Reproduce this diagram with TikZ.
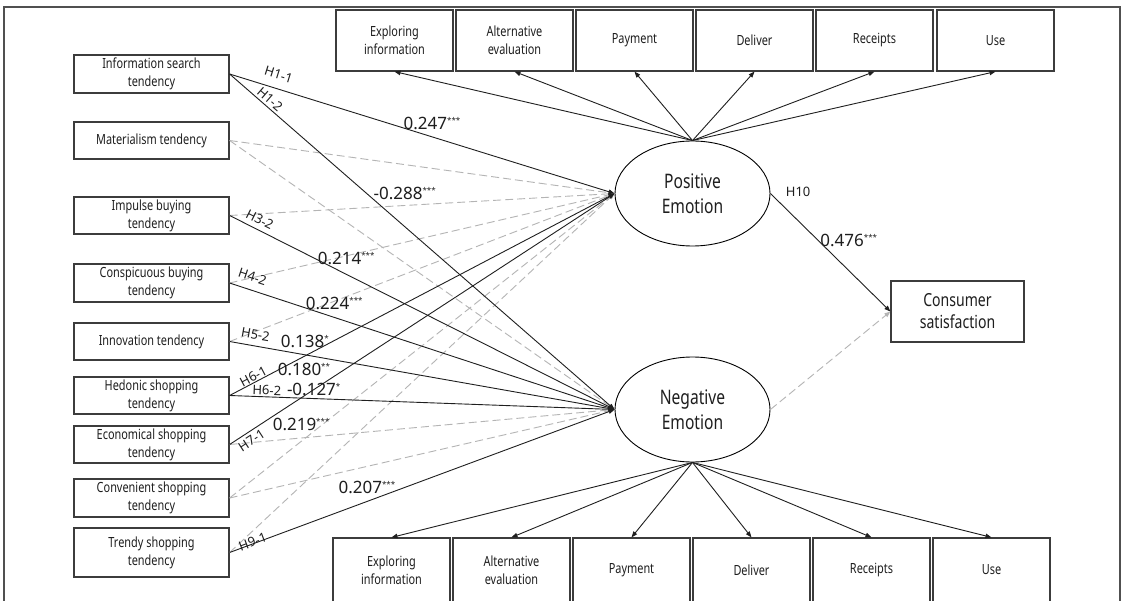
\documentclass[tikz,border=0pt]{standalone}
\usepackage{fontspec}
\setmainfont{Noto Sans}
\newfontfamily\narrowfont[FakeStretch=0.78]{Noto Sans}
\usetikzlibrary{arrows.meta,shapes.geometric}
\definecolor{boxc}{HTML}{3C3C3C}
\definecolor{dashc}{HTML}{B4B4B4}
\definecolor{txt}{HTML}{1E1E1E}
\definecolor{framec}{HTML}{505050}
\newcommand\pstars[1]{\raisebox{6pt}{\fontsize{8}{8}\selectfont #1}}
\tikzset{
  box/.style={draw=boxc, line width=1.2pt, inner sep=0pt, align=center, text=txt,
    font=\narrowfont\fontsize{14}{18}\selectfont},
  lbox/.style={box, minimum width=155pt, minimum height=37pt},
  tbox/.style={box, minimum width=117pt, minimum height=61pt},
  bbox/.style={box, minimum width=117pt, minimum height=64pt},
  emo/.style={ellipse, draw=black, line width=0.9pt, minimum width=155pt, minimum height=105pt,
    inner sep=0pt, align=center, text=txt, font=\narrowfont\fontsize{20}{25}\selectfont},
  solidarr/.style={draw=black!88, line width=0.9pt, -{Triangle[length=6pt,width=4.5pt]}},
  dasharr/.style={draw=dashc, line width=0.9pt, dash pattern=on 8pt off 4pt,
    -{Triangle[length=6pt,width=4.5pt]}},
  num/.style={anchor=base west, inner sep=0pt, text=txt, font=\fontsize{17}{20}\selectfont},
  hl/.style={sloped, inner xsep=0pt, text=txt, font=\fontsize{13}{13}\selectfont},
}
\begin{document}
\begin{tikzpicture}[x=1pt,y=-1pt]
\useasboundingbox (0,0) rectangle (1123,601);
\fill[white] (0,0) rectangle (1123,601);
\draw[framec, line width=1.2pt] (4,601) -- (4,7) -- (1120,7) -- (1120,601);

% left boxes
\node[lbox, minimum height=38pt] (info)   at (151.5,74)    {Information search\\tendency};
\node[lbox]                      (mat)    at (151.5,140.5) {Materialism tendency};
\node[lbox]                      (imp)    at (151.5,215.5) {Impulse buying\\tendency};
\node[lbox, minimum height=38pt] (consp)  at (151.5,283)   {Conspicuous buying\\tendency};
\node[lbox]                      (innov)  at (151.5,341.5) {Innovation tendency};
\node[lbox]                      (hed)    at (151.5,395.5) {Hedonic shopping\\tendency};
\node[lbox]                      (econ)   at (151.5,444.5) {Economical shopping\\tendency};
\node[lbox, minimum height=38pt] (conv)   at (151.5,498)   {Convenient shopping\\tendency};
\node[lbox, minimum height=49pt] (trendy) at (151.5,552.5) {Trendy shopping\\tendency};

% emotions and outcome
\node[emo] (pos) at (692.5,193.5) {Positive\\Emotion};
\node[emo] (neg) at (692.5,409.5) {Negative\\Emotion};
\node[box, minimum width=133pt, minimum height=61pt, font=\narrowfont\fontsize{18}{22}\selectfont]
  (cons) at (957.5,311.5) {Consumer\\satisfaction};

% top boxes
\node[tbox] (t1) at (394.5,40.5) {Exploring\\information};
\node[tbox] (t2) at (514.5,40.5) {Alternative\\evaluation};
\node[tbox] (t3) at (634.5,40.5) {Payment};
\node[tbox] (t4) at (754.5,40.5) {Deliver};
\node[tbox] (t5) at (874.5,40.5) {Receipts};
\node[tbox] (t6) at (995.5,40.5) {Use};

% bottom boxes
\node[bbox] (b1) at (391.5,570) {Exploring\\information};
\node[bbox] (b2) at (511.5,570) {Alternative\\evaluation};
\node[bbox] (b3) at (631.5,570) {Payment};
\node[bbox] (b4) at (751.5,570) {Deliver};
\node[bbox] (b5) at (871.5,570) {Receipts};
\node[bbox] (b6) at (991.5,570) {Use};

% dashed (non-significant) paths
\draw[dasharr] (mat.east) -- (pos.west);
\draw[dasharr] (mat.east) -- (neg.west);
\draw[dasharr] (imp.east) -- (pos.west);
\draw[dasharr] (consp.east) -- (pos.west);
\draw[dasharr] (innov.east) -- (pos.west);
\draw[dasharr] (econ.east) -- (neg.west);
\draw[dasharr] (conv.east) -- (pos.west);
\draw[dasharr] (conv.east) -- (neg.west);
\draw[dasharr] (trendy.east) -- (pos.west);
\draw[dasharr] (neg.east) -- (cons.west);

% significant paths
\draw[solidarr] (info.east) -- (pos.west)
  node[hl, pos=0.117, anchor=south, inner ysep=8.7pt] {H1-1}
  node[num, pos=0.451, yshift=-1.3pt] {0.247\pstars{***}};
\draw[solidarr] (info.east) -- (neg.west)
  node[hl, pos=0.092, anchor=south, inner ysep=2.4pt] {H1-2}
  node[num, pos=0.373, yshift=-0.7pt] {-0.288\pstars{***}};
\draw[solidarr] (imp.east) -- (neg.west)
  node[hl, pos=0.067, anchor=south, inner ysep=4.7pt] {H3-2}
  node[num, pos=0.228, yshift=-5.2pt] {0.214\pstars{***}};
\draw[solidarr] (consp.east) -- (neg.west)
  node[hl, pos=0.049, anchor=south, inner ysep=8pt] {H4-2}
  node[num, pos=0.197, yshift=-2pt] {0.224\pstars{***}};
\draw[solidarr] (innov.east) -- (neg.west)
  node[hl, pos=0.062, anchor=south, inner ysep=6.3pt] {H5-2}
  node[num, pos=0.132, yshift=2.5pt] {0.138\pstars{*}};
\draw[solidarr] (hed.east) -- (pos.west)
  node[hl, pos=0.069, anchor=south, inner ysep=0.8pt] {H6-1}
  node[num, pos=0.124, yshift=-4.7pt] {0.180\pstars{**}};
\draw[solidarr] (hed.east) -- (neg.west)
  node[hl, pos=0.096, anchor=south, inner ysep=1.3pt] {H6-2}
  node[num, pos=0.148, yshift=1.6pt] {-0.127\pstars{*}};
\draw[solidarr] (econ.east) -- (pos.west)
  node[hl, pos=0.045, anchor=north, inner ysep=3.5pt] {H7-1}
  node[num, pos=0.111, yshift=-13.5pt] {0.219\pstars{***}};
\draw[solidarr] (trendy.east) -- (neg.west)
  node[hl, pos=0.062, anchor=mid, inner ysep=0pt] {H9-1}
  node[num, pos=0.282, yshift=18.3pt] {0.207\pstars{***}};
\draw[solidarr] (pos.east) -- (cons.west)
  node[pos=0, anchor=west, inner sep=0pt, xshift=15pt, yshift=2pt, text=txt,
       font=\fontsize{13}{13}\selectfont] {H10}
  node[num, pos=0.413, yshift=-4pt] {0.476\pstars{***}};

% measurement arrows
\foreach \k in {1,...,6} {
  \draw[solidarr] (pos.north) -- (t\k.south);
  \draw[solidarr] (neg.south) -- (b\k.north);
}
\end{tikzpicture}
\end{document}
